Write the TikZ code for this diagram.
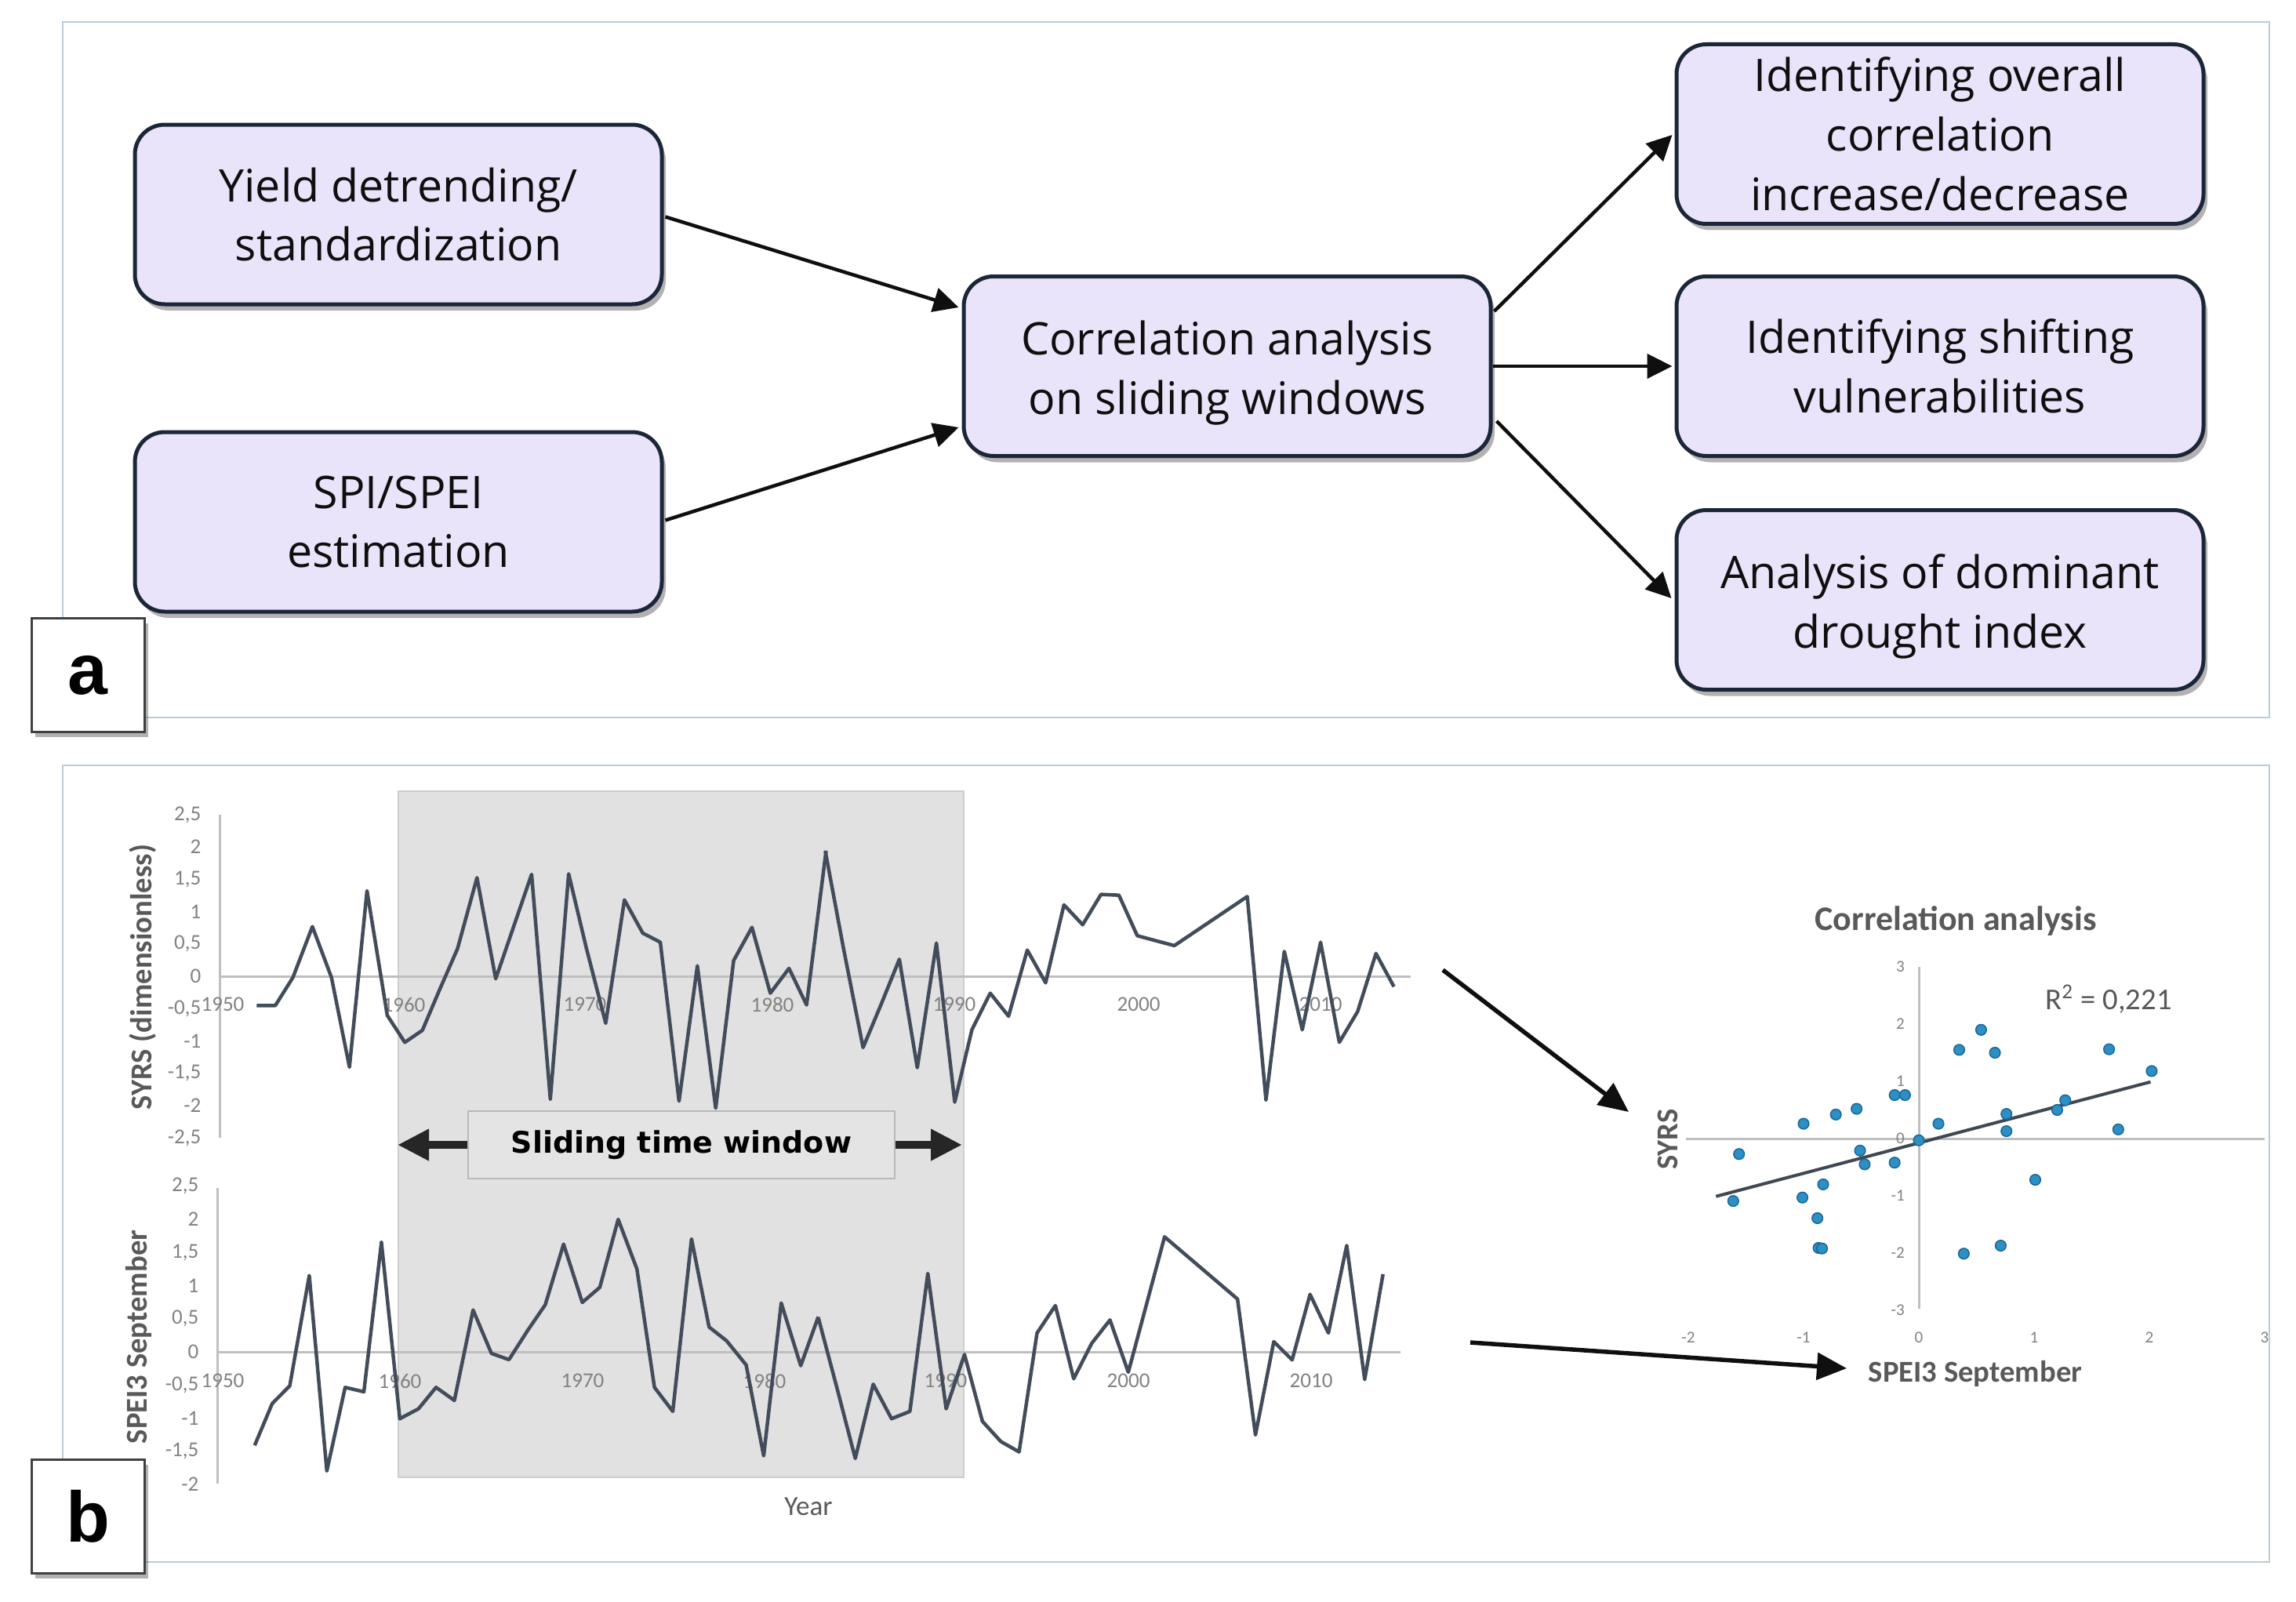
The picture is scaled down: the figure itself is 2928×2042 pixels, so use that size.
\documentclass[tikz,border=0pt]{standalone}
\usepackage{fontspec}
\usetikzlibrary{arrows.meta,shadows,calc}
\newfontfamily\boxfont{Open Sans}
\newfontfamily\calfont{Carlito}
\newfontfamily\labfont{Liberation Sans}
\newfontfamily\djfont{DejaVu Sans}
\definecolor{boxfill}{RGB}{234,228,250}
\definecolor{boxedge}{RGB}{27,38,56}
\definecolor{frameblue}{RGB}{188,204,214}
\definecolor{chartline}{RGB}{66,76,90}
\definecolor{axisgray}{RGB}{191,191,191}
\definecolor{ticktext}{RGB}{130,130,130}
\definecolor{titlegray}{RGB}{89,89,89}
\definecolor{windowgray}{RGB}{225,225,225}
\definecolor{windowedge}{RGB}{205,205,205}
\definecolor{slidefill}{RGB}{228,228,228}
\definecolor{slideedge}{RGB}{185,185,185}
\definecolor{dotfill}{RGB}{46,143,196}
\definecolor{dotedge}{RGB}{24,104,150}
\definecolor{trendgray}{RGB}{64,72,84}
\definecolor{labeledge}{RGB}{64,64,64}
\definecolor{inktext}{RGB}{15,15,15}
\begin{document}
\begin{tikzpicture}[x=0.1mm,y=-0.1mm,
  flowbox/.style={draw=boxedge, line width=0.5mm, fill=boxfill, rounded corners=3.8mm,
    minimum width=67.2mm, minimum height=22.9mm, inner sep=0pt, align=center,
    font=\boxfont\fontsize{16.3pt}{21.6pt}\selectfont, text=inktext,
    drop shadow={shadow xshift=0.5mm, shadow yshift=-0.8mm, fill=black, opacity=0.3}},
  labelbox/.style={draw=labeledge, line width=0.3mm, fill=white,
    minimum width=14.4mm, minimum height=14.5mm, inner sep=0pt,
    font=\labfont\bfseries\fontsize{26pt}{26pt}\selectfont,
    drop shadow={shadow xshift=0.5mm, shadow yshift=-0.6mm, fill=black, opacity=0.3}},
  flowarrow/.style={line width=0.45mm, draw=inktext, -{Triangle[length=3.2mm,width=3.1mm]}},
  scarrow/.style={line width=0.55mm, draw=inktext, -{Triangle[length=3.8mm,width=3.4mm]}},
  winarrow/.style={line width=1mm, draw=black!85, -{Triangle[length=4mm,width=3.8mm]}},
  panelframe/.style={draw=frameblue, line width=0.2mm},
  chartln/.style={draw=chartline, line width=0.45mm, line join=round},
  axisln/.style={draw=axisgray, line width=0.3mm},
  ticklab/.style={font=\calfont\fontsize{7.7pt}{8pt}\selectfont, text=ticktext, inner sep=0pt},
  sctick/.style={font=\calfont\fontsize{6pt}{7pt}\selectfont, text=ticktext, inner sep=0pt},
  axtitle/.style={font=\calfont\bfseries\fontsize{11pt}{12pt}\selectfont, text=titlegray, inner sep=0pt},
  dotstyle/.style={fill=dotfill, draw=dotedge, line width=0.15mm},
  trend/.style={draw=trendgray, line width=0.4mm}]
\useasboundingbox (0,0) rectangle (2928,2042);
\fill[white] (0,0) rectangle (2928,2042);

% ---------- panel frames ----------
\draw[panelframe] (80,28) rectangle (2894,915);
\draw[panelframe] (80,976) rectangle (2894,1992);

% ---------- panel a ----------
\node[flowbox] (yield) at (508,273.5) {Yield detrending/\\standardization};
\node[flowbox] (spi) at (508,665.5) {SPI/SPEI\\estimation};
\node[flowbox] (corr) at (1565,467) {\rule{0pt}{6.0mm}Correlation analysis\\on sliding windows};
\node[flowbox] (overall) at (2474,171) {Identifying overall\\correlation\\increase/decrease};
\node[flowbox] (shifting) at (2474,467) {Identifying shifting\\vulnerabilities};
\node[flowbox] (analysis) at (2474,765) {\rule{0pt}{6.0mm}Analysis of dominant\\drought index};

\draw[flowarrow] ($(yield.east)+(2,3)$) -- ($(corr.west)+(-4,-75)$);
\draw[flowarrow] ($(spi.east)+(2,-2)$) -- ($(corr.west)+(-4,78)$);
\draw[flowarrow] ($(corr.east)+(2,-70)$) -- ($(overall.west)+(-3,1)$);
\draw[flowarrow] (corr.east) -- ($(shifting.west)+(-3,0)$);
\draw[flowarrow] ($(corr.east)+(5,70)$) -- ($(analysis.west)+(-4,-2)$);

% ---------- panel b: sliding window ----------
\node[fill=windowgray, draw=windowedge, line width=0.2mm, minimum width=72.1mm,
  minimum height=87.5mm, inner sep=0pt] (win) at (868.5,1446.5) {};

% chart 1 axes
\draw[axisln] (280,1039) -- (280,1451);
\draw[axisln] (280,1245) -- (1799,1245);
\foreach \v/\t [count=\i] in {2.5/{2,5},2/2,1.5/{1,5},1/1,0.5/{0,5},0/0,-0.5/{-0,5},-1/-1,-1.5/{-1,5},-2/-2,-2.5/{-2,5}}
  \node[ticklab, anchor=east] (ya\i) at (257,{1245-(\v)*82.4}) {\t};
\foreach \yr/\xx in {1950/284,1960/515,1970/746,1980/985,1990/1217,2000/1452,2010/1684}
  \node[ticklab] (yra\yr) at (\xx,1281) {\yr};
\node[axtitle, rotate=90] (syrsT) at (182,1246) {SYRS (dimensionless)};

% chart 2 axes
\draw[axisln] (277,1515) -- (277,1892);
\draw[axisln] (277,1724) -- (1786,1724);
\foreach \v/\t [count=\i] in {2.5/{2,5},2/2,1.5/{1,5},1/1,0.5/{0,5},0/0,-0.5/{-0,5},-1/-1,-1.5/{-1,5},-2/-2}
  \node[ticklab, anchor=east] (yb\i) at (254,{1724-(\v)*84.5}) {\t};
\foreach \yr/\xx in {1950/284,1960/510,1970/743,1980/975,1990/1206,2000/1439,2010/1672}
  \node[ticklab] (yrb\yr) at (\xx,1761) {\yr};
\node[axtitle, rotate=90] (speiT) at (177,1705) {SPEI3 September};
\node[font=\calfont\fontsize{10pt}{12pt}\selectfont, text=titlegray, inner sep=0pt] (yearT) at (1031,1921) {Year};

% chart 1 data
\begin{scope}[shift={(280,1020)}, x=0.04975mm, y=-0.03333mm]
\draw[chartln] plot coordinates {(95,787) (143,787) (188,680) (238,485) (287,680) (333,1023) (378,348) (430,825) (475,928) (520,882) (564,727) (610,570) (660,298) (708,685) (754,485) (800,285) (848,1145) (895,283) (940,565) (990,855) (1038,383) (1085,510) (1130,545) (1178,1153) (1225,635) (1272,1180) (1318,615) (1365,488) (1412,740) (1460,645) (1505,785) (1555,195)};
\end{scope}
\begin{scope}[shift={(1030,1020)}, x=0.04975mm, y=-0.03333mm]
\draw[chartln] plot coordinates {(45,195) (92,570) (142,948) (189,780) (235,610) (281,1025) (330,548) (377,1157) (421,880) (468,740) (515,828) (563,575) (610,700) (657,402) (705,478) (752,362) (798,365) (845,520) (940,558) (1127,370) (1175,1148) (1222,580) (1268,880) (1315,545) (1363,928) (1410,810) (1457,588) (1503,715)};
\end{scope}
% chart 2 data
\begin{scope}[shift={(280,1490)}, x=0.04975mm, y=-0.03333mm]
\draw[chartln] plot coordinates {(90,1060) (135,900) (180,832) (230,410) (275,1158) (322,838) (370,855) (415,283) (462,958) (510,920) (555,838) (602,888) (650,542) (697,708) (742,732) (790,620) (835,522) (882,290) (930,513) (975,455) (1022,195) (1070,385) (1115,838) (1162,930) (1210,270) (1255,607) (1300,660) (1350,752) (1395,1100) (1440,515) (1490,755) (1535,568)};
\end{scope}
\begin{scope}[shift={(1030,1490)}, x=0.04975mm, y=-0.03333mm]
\draw[chartln] plot coordinates {(27,570) (75,840) (122,1110) (168,826) (215,958) (262,930) (308,402) (355,920) (402,712) (448,968) (495,1045) (542,1085) (588,630) (635,525) (682,805) (728,670) (775,580) (822,780) (915,262) (1102,500) (1148,1020) (1195,663) (1242,733) (1288,482) (1335,630) (1382,295) (1428,808) (1475,405)};
\end{scope}

% sliding time window label and arrows
\node[fill=slidefill, draw=slideedge, line width=0.2mm, minimum width=54.4mm, minimum height=8.6mm,
  inner sep=0pt, font=\djfont\bfseries\fontsize{10.8pt}{12pt}\selectfont, text=black] (slide) at (869,1460) {Sliding time window};
\draw[winarrow] (slide.west) -- (slide.west -| win.west);
\draw[winarrow] (slide.east) -- ($(slide.east -| win.east)+(-3,0)$);

% ---------- scatter plot ----------
\node[axtitle, font=\calfont\bfseries\fontsize{12.5pt}{14pt}\selectfont] (scTitle) at (2494,1174) {Correlation analysis};
\node[font=\calfont\fontsize{11pt}{12pt}\selectfont, text=titlegray, inner sep=0pt] (r2) at (2689,1274) {R\textsuperscript{2} = 0,221};
\node[axtitle, rotate=90] (scY) at (2127,1453) {SYRS};
\node[axtitle] (scX) at (2519,1752) {SPEI3 September};
\begin{scope}[shift={(2447,1452)}, x=14.7mm, y=7.3mm]
\draw[axisln] (-2.02,0) -- (3.0,0);
\draw[axisln] (0,-2.97) -- (0,3.0);
\foreach \v [count=\i] in {-3,...,3}
  \node[sctick, anchor=east] (scy\i) at (-0.12,\v) {\v};
\foreach \v [count=\i] in {-2,...,3}
  \node[sctick] (scx\i) at (\v,-3.47) {\v};
\draw[trend] (-1.76,-1.01) -- (2.01,0.99);
\foreach \a/\b in {-1.56/-0.27,-1.61/-1.09,-1.0/0.26,-1.01/-1.03,-0.83/-0.8,-0.72/0.42,-0.88/-1.39,-0.87/-1.91,-0.84/-1.92,-0.54/0.52,-0.51/-0.21,-0.47/-0.45,-0.21/0.76,-0.12/0.76,-0.21/-0.42,0/-0.03,0.17/0.26,0.35/1.55,0.54/1.90,0.66/1.50,0.39/-2.01,0.71/-1.87,0.76/0.43,0.76/0.13,1.01/-0.72,1.2/0.50,1.27/0.67,1.65/1.56,1.73/0.16,2.02/1.18}
  \draw[dotstyle] (\a,\b) circle[radius=0.68mm];
\end{scope}

% arrows from charts to scatter
\coordinate (fromA) at (1840,1237);
\coordinate (toA) at (2077,1418);
\coordinate (fromB) at (1875,1712);
\coordinate (toB) at (2355,1745);
\draw[scarrow] (fromA) -- (toA);
\draw[scarrow] (fromB) -- (toB);

% ---------- panel labels ----------
\node[labelbox] (la) at (112,861) {a};
\node[labelbox] (lb) at (112,1934) {b};
\end{tikzpicture}
\end{document}
